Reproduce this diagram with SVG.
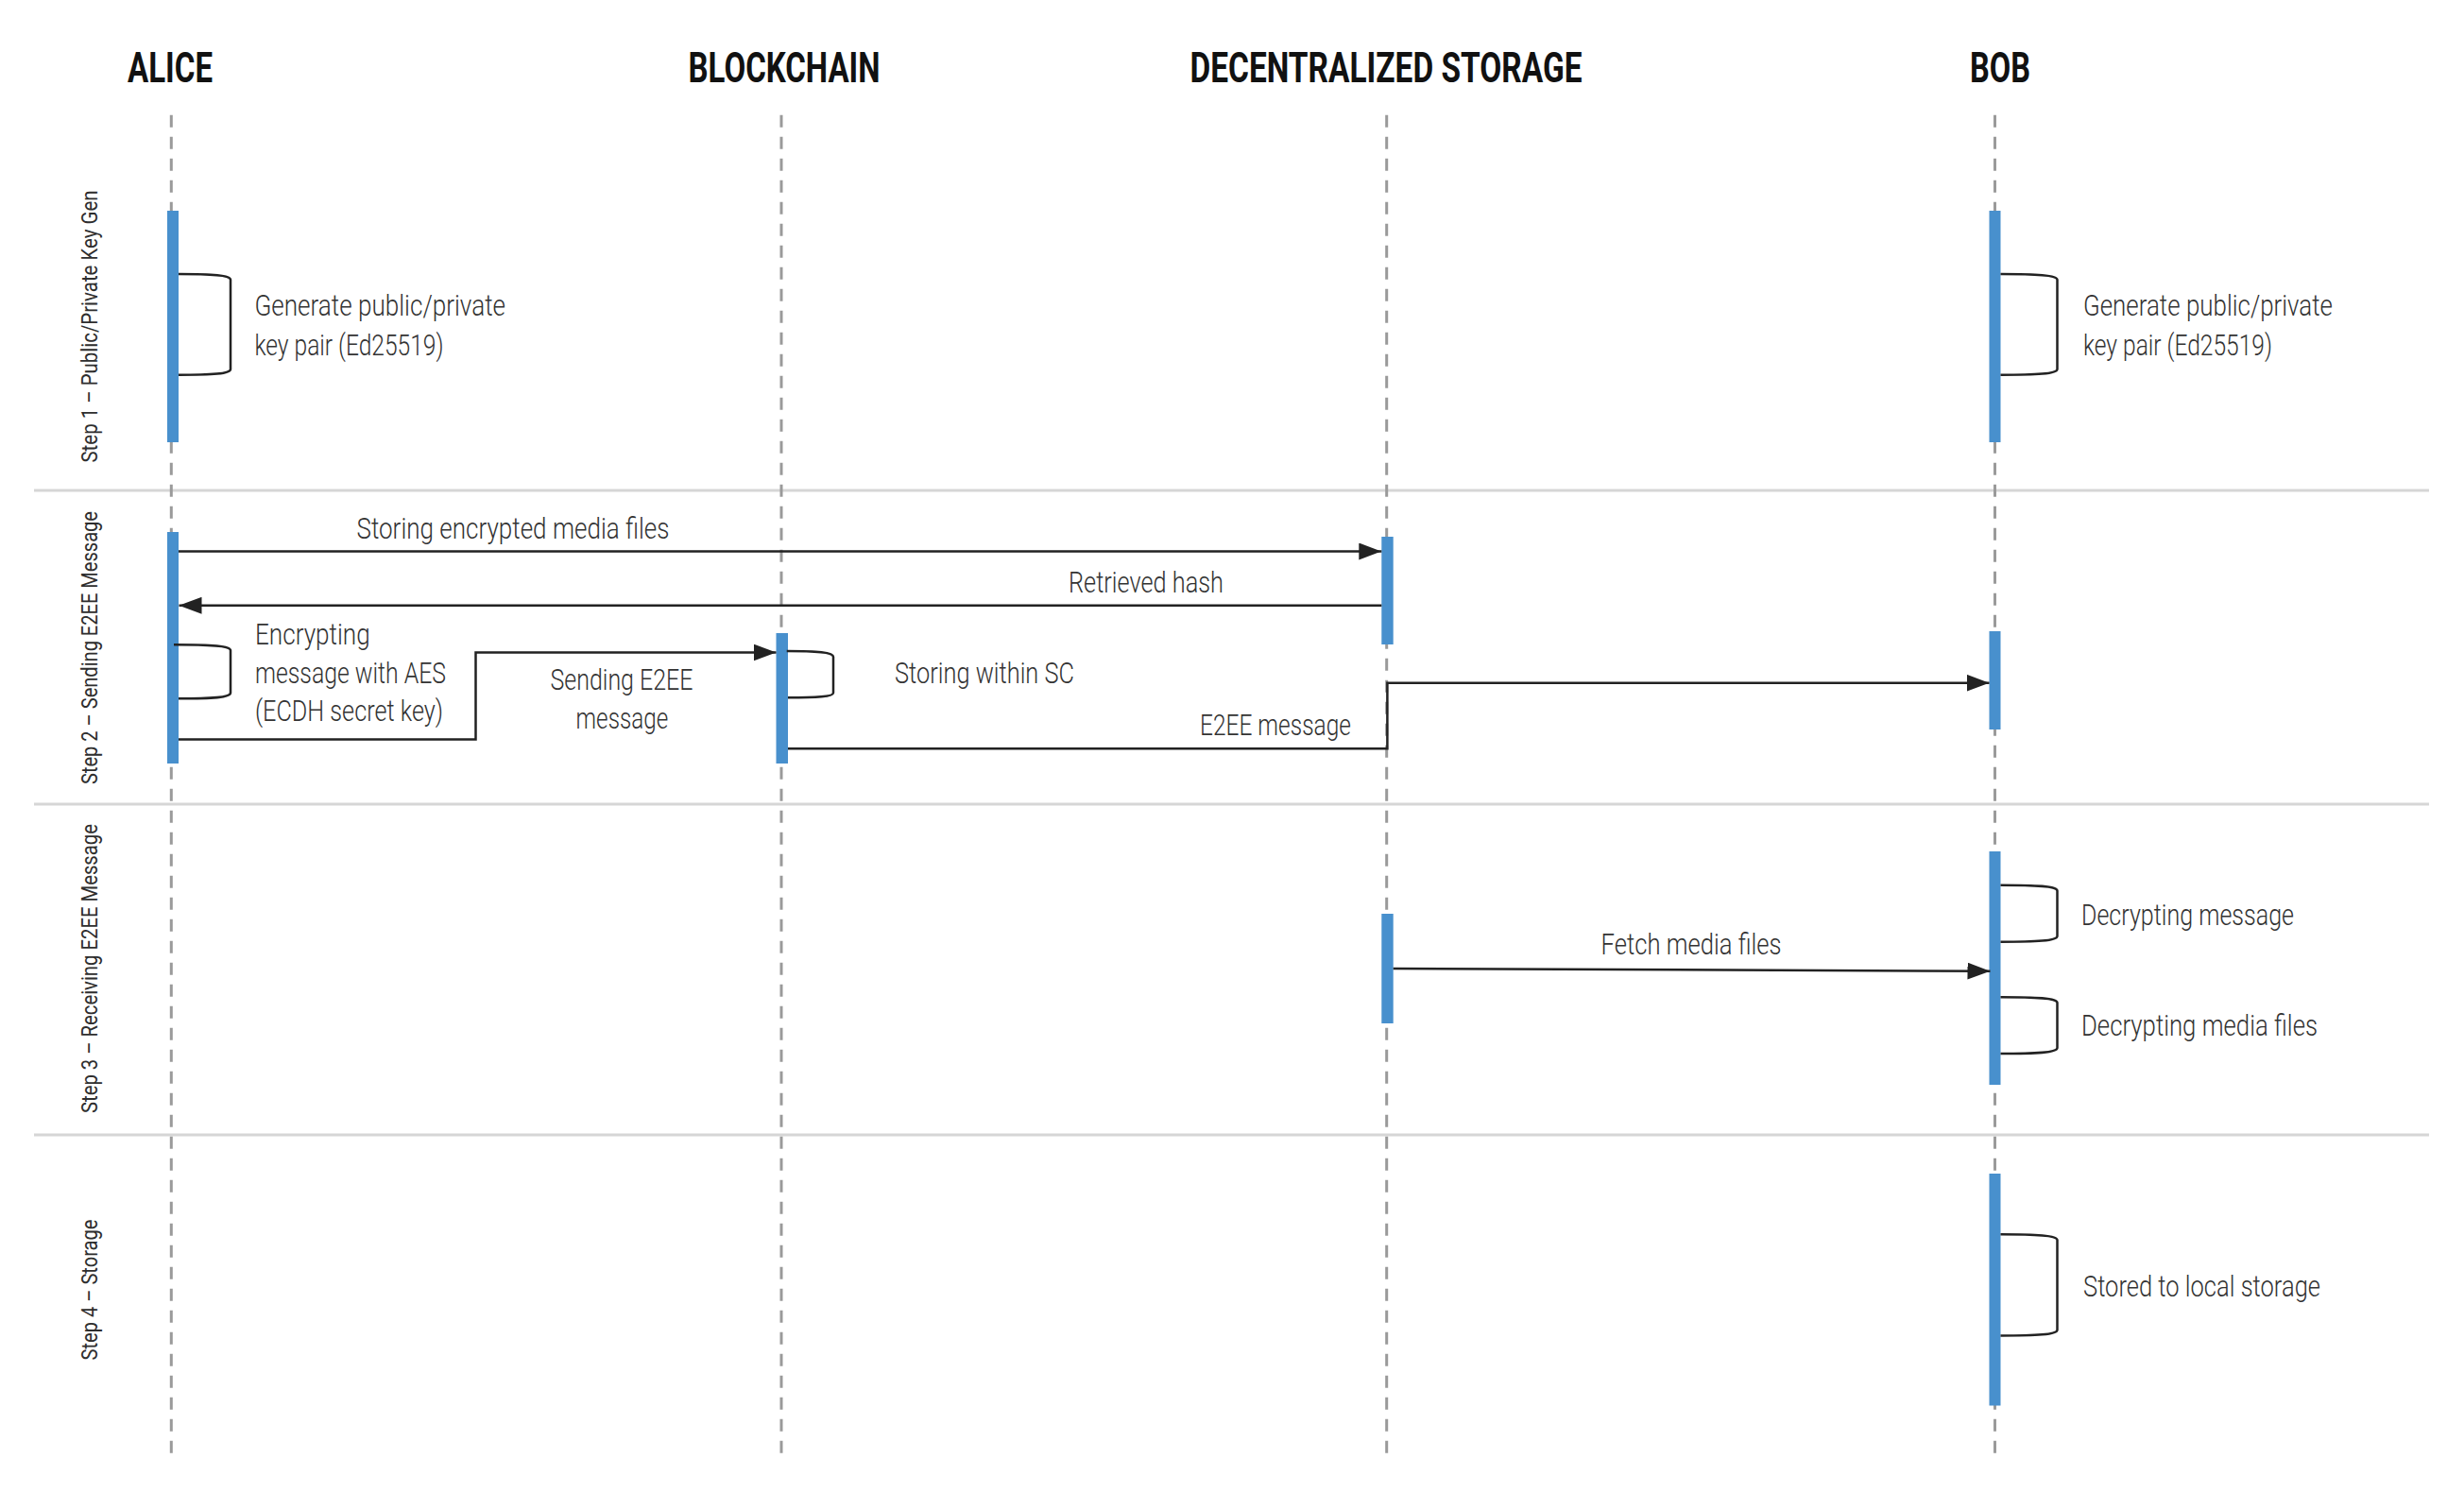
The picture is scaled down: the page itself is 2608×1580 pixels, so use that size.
<svg xmlns="http://www.w3.org/2000/svg" width="2608" height="1580" viewBox="0 0 2608 1580">
<style>
.hdr{font-family:Roboto,"Liberation Sans",sans-serif;font-weight:700;font-size:45px;fill:#111;text-anchor:middle}
.lbl{font-family:Roboto,"Liberation Sans",sans-serif;font-weight:300;font-size:31px;fill:#333}
.mid{text-anchor:middle}
.step{font-family:Roboto,"Liberation Sans",sans-serif;font-weight:400;font-size:24px;fill:#2e2e2e;text-anchor:middle}
.life{stroke:#9a9a9a;stroke-width:3;stroke-dasharray:13 10;fill:none}
.bar{fill:#4890cd}
.sep{stroke:#d6d6d6;stroke-width:3}
.msg{stroke:#222;stroke-width:2.5;fill:none}
.arr{marker-end:url(#ah)}
</style>
<defs>
<marker id="ah" markerUnits="userSpaceOnUse" markerWidth="24" markerHeight="18" refX="24" refY="9" orient="auto">
<path d="M0,0 L24,9 L0,18 z" fill="#222"/>
</marker>
</defs>
<rect width="2608" height="1580" fill="#fff"/>

<g id="separators">
<line class="sep" x1="36" y1="519" x2="2571" y2="519"/>
<line class="sep" x1="36" y1="851" x2="2571" y2="851"/>
<line class="sep" x1="36" y1="1201" x2="2571" y2="1201"/>
</g>

<g id="steps">
<text class="step" transform="translate(102.5,345.5) rotate(-90)" textLength="288" lengthAdjust="spacingAndGlyphs">Step 1 – Public/Private Key Gen</text>
<text class="step" transform="translate(102.5,685.5) rotate(-90)" textLength="289" lengthAdjust="spacingAndGlyphs">Step 2 – Sending E2EE Message</text>
<text class="step" transform="translate(102.5,1025) rotate(-90)" textLength="306" lengthAdjust="spacingAndGlyphs">Step 3 – Receiving E2EE Message</text>
<text class="step" transform="translate(102.5,1365) rotate(-90)" textLength="149" lengthAdjust="spacingAndGlyphs">Step 4 – Storage</text>
</g>

<g id="alice">
<text class="hdr" x="180" y="87" textLength="90" lengthAdjust="spacingAndGlyphs">ALICE</text>
<line class="life" x1="181.3" y1="121.7" x2="181.3" y2="1540"/>
<rect class="bar" x="177" y="223" width="12" height="245"/>
<rect class="bar" x="177" y="563" width="12" height="245"/>
</g>

<g id="blockchain">
<text class="hdr" x="830" y="87" textLength="203" lengthAdjust="spacingAndGlyphs">BLOCKCHAIN</text>
<line class="life" x1="827" y1="121.7" x2="827" y2="1540"/>
<rect class="bar" x="821.5" y="670" width="12.5" height="138"/>
</g>

<g id="storage">
<text class="hdr" x="1467" y="87" textLength="415" lengthAdjust="spacingAndGlyphs">DECENTRALIZED STORAGE</text>
<line class="life" x1="1467.7" y1="121.7" x2="1467.7" y2="1540"/>
<rect class="bar" x="1462.3" y="568" width="12.4" height="114"/>
<rect class="bar" x="1462.3" y="967" width="12.4" height="116"/>
</g>

<g id="bob">
<text class="hdr" x="2117" y="87" textLength="64" lengthAdjust="spacingAndGlyphs">BOB</text>
<line class="life" x1="2111.5" y1="121.7" x2="2111.5" y2="1540"/>
<rect class="bar" x="2105.5" y="223" width="12" height="245"/>
<rect class="bar" x="2105.5" y="668" width="12" height="104"/>
<rect class="bar" x="2105.5" y="901" width="12" height="247"/>
<rect class="bar" x="2105.5" y="1242" width="12" height="245.5"/>
</g>

<g id="connectors">
<path class="msg" d="M189,290 C225,290 244,291 244,296 L244,390.7 C244,395.7 225,396.7 189,396.7"/>
<text class="lbl" x="269.5" y="334.3" textLength="265.5" lengthAdjust="spacingAndGlyphs">Generate public/private</text>
<text class="lbl" x="269.5" y="376" textLength="200" lengthAdjust="spacingAndGlyphs">key pair (Ed25519)</text>

<path class="msg" d="M2117.5,290 C2155,290 2177.5,291 2177.5,296 L2177.5,390.7 C2177.5,395.7 2155,396.7 2117.5,396.7"/>
<text class="lbl" x="2205" y="334.3" textLength="264" lengthAdjust="spacingAndGlyphs">Generate public/private</text>
<text class="lbl" x="2205" y="376" textLength="200" lengthAdjust="spacingAndGlyphs">key pair (Ed25519)</text>

<line class="msg arr" x1="189" y1="583.5" x2="1462.3" y2="583.5"/>
<text class="lbl mid" x="543" y="570" textLength="331" lengthAdjust="spacingAndGlyphs">Storing encrypted media files</text>

<line class="msg arr" x1="1462.3" y1="640.8" x2="189.5" y2="640.8"/>
<text class="lbl mid" x="1213" y="626.7" textLength="164" lengthAdjust="spacingAndGlyphs">Retrieved hash</text>

<path class="msg" d="M184,682.3 C225,682.3 244,683.3 244,688.3 L244,733.3 C244,738.3 225,739.3 189,739.3"/>
<text class="lbl" x="270" y="681.7" textLength="121.7" lengthAdjust="spacingAndGlyphs">Encrypting</text>
<text class="lbl" x="270" y="722.5" textLength="202" lengthAdjust="spacingAndGlyphs">message with AES</text>
<text class="lbl" x="270" y="763.3" textLength="199" lengthAdjust="spacingAndGlyphs">(ECDH secret key)</text>

<path class="msg arr" d="M189,782.5 L503.5,782.5 L503.5,690.5 L821.5,690.5"/>
<text class="lbl mid" x="658" y="730" textLength="151" lengthAdjust="spacingAndGlyphs">Sending E2EE</text>
<text class="lbl mid" x="658.4" y="770.7" textLength="97.6" lengthAdjust="spacingAndGlyphs">message</text>

<path class="msg" d="M832.7,689 C865,689 882,690 882,695 L882,733.3 C882,737.3 865,738.3 834,738.3"/>
<text class="lbl" x="947" y="722.7" textLength="190" lengthAdjust="spacingAndGlyphs">Storing within SC</text>

<path class="msg arr" d="M834,792.3 L1468.4,792.3 L1468.4,722.7 L2105.5,722.7"/>
<text class="lbl" x="1270" y="778" textLength="160" lengthAdjust="spacingAndGlyphs">E2EE message</text>

<line class="msg arr" x1="1474.7" y1="1025" x2="2106.5" y2="1027.7"/>
<text class="lbl" x="1694.5" y="1009.9" textLength="191" lengthAdjust="spacingAndGlyphs">Fetch media files</text>

<path class="msg" d="M2117.5,936.7 C2155,936.7 2177.5,937.7 2177.5,942.7 L2177.5,990.7 C2177.5,995.7 2155,996.7 2117.5,996.7"/>
<text class="lbl" x="2203" y="979" textLength="225" lengthAdjust="spacingAndGlyphs">Decrypting message</text>

<path class="msg" d="M2117.5,1055.2 C2155,1055.2 2177.5,1056.2 2177.5,1061.2 L2177.5,1109.1 C2177.5,1114.1 2155,1115.1 2117.5,1115.1"/>
<text class="lbl" x="2203" y="1096" textLength="250" lengthAdjust="spacingAndGlyphs">Decrypting media files</text>

<path class="msg" d="M2117.5,1306.3 C2155,1306.3 2177.5,1307.3 2177.5,1312.3 L2177.5,1407.4 C2177.5,1412.4 2155,1413.4 2117.5,1413.4"/>
<text class="lbl" x="2205" y="1372.3" textLength="251" lengthAdjust="spacingAndGlyphs">Stored to local storage</text>
</g>
</svg>
